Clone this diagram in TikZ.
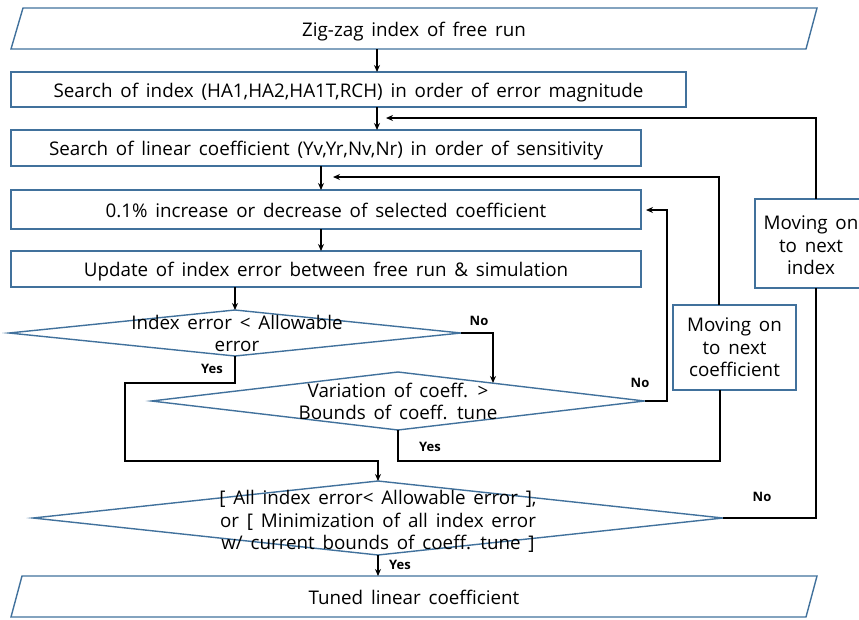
\documentclass[tikz,border=0pt]{standalone}
\usepackage{fontspec}
\setmainfont{Open Sans}
\usetikzlibrary{shapes.geometric,arrows.meta,calc}
\definecolor{bord}{HTML}{41719C}
\newcommand\widespace{\spaceskip=7.8pt plus 2pt\relax}
\begin{document}
\begin{tikzpicture}[x=1pt,y=-1pt,
  txt/.style={font=\fontsize{18.8}{22.5}\selectfont,align=center,inner sep=0pt,outer sep=0pt,execute at begin node=\widespace},
  oneline/.style={txt,text height=16pt,text depth=1pt},
  procbox/.style={oneline,draw=bord,line width=1.4pt,fill=white},
  sidebox/.style={draw=bord,line width=1.4pt,fill=white,inner sep=0pt,outer sep=0pt},
  decis/.style={diamond,draw=bord,line width=1.4pt,inner sep=0pt,outer sep=0pt},
  io/.style={draw=bord,line width=1.4pt,line join=miter},
  conn/.style={line width=1.8pt,-{Stealth[length=7pt,width=6pt]}},
  wire/.style={line width=1.8pt},
  lab/.style={font=\bfseries\fontsize{13}{15}\selectfont,inner sep=0pt}]
\useasboundingbox (0,0) rectangle (859,619);

% input / output parallelograms
\draw[io] (23,8) -- (817,8) -- (806,49) -- (11,49) -- cycle;
\node[oneline,minimum width=795pt,minimum height=41pt] (n1) at (414,28.5) {Zig-zag index of free run};
\draw[io] (22,576) -- (817,576) -- (806,617) -- (11,617) -- cycle;
\node[oneline,minimum width=795pt,minimum height=41pt] (n6) at (414,596.5) {Tuned linear coefficient};

% process boxes
\node[procbox,minimum width=675pt,minimum height=35pt] (n2) at (348.5,89.5) {Search of index (HA1,HA2,HA1T,RCH) in order of error magnitude};
\node[procbox,minimum width=630pt,minimum height=36pt] (n3) at (326,148) {Search of linear coefficient (Yv,Yr,Nv,Nr) in order of sensitivity};
\node[procbox,minimum width=630pt,minimum height=39pt] (n4) at (326,209.5) {0.1\% increase or decrease of selected coefficient};
\node[procbox,minimum width=630pt,minimum height=36pt] (n5) at (326,269) {Update of index error between free run \& simulation};

% decisions
\node[decis,minimum width=452pt,minimum height=46pt] (d1) at (235,333) {};
\node[txt] (t1) at (237,333.5) {Index error < Allowable\\error};
\node[decis,minimum width=493pt,minimum height=58pt] (d2) at (398,401) {};
\node[txt] (t2) at (398,401.5) {Variation of coeff. >\\Bounds of coeff. tune};
\node[decis,minimum width=690pt,minimum height=74pt] (d3) at (378,518) {};
\node[txt] (t3) at (378,521.5) {[ All index error< Allowable error ],\\or [ Minimization of all index error\\w/ current bounds of coeff. tune ]};

% side boxes
\node[sidebox,minimum width=123pt,minimum height=85pt] (mc) at (734.5,347.5) {};
\node[txt] (tc) at (734.5,347.5) {Moving on\\to next\\coefficient};
\node[sidebox,minimum width=116pt,minimum height=89pt] (mi) at (813,243.5) {};
\node[txt] (ti) at (811,245.5) {Moving on\\to next\\index};

% helper coordinates
\coordinate (d2in) at (493,383);

% main flow
\draw[conn] (377,0 |- n1.south) -- (377,0 |- n2.north);
\draw[conn] (377,0 |- n2.south) -- (377,0 |- n3.north);
\draw[conn] (321,0 |- n3.south) -- (321,0 |- n4.north);
\draw[conn] (321,0 |- n4.south) -- (321,0 |- n5.north);
\draw[conn] (d1.north |- n5.south) -- (d1.north);
\draw[conn] (d1.east) -| (d2in);
\draw[conn] (d1.south) -- (235,383) -- (125,383) -- (125,461) -- (378,461) -- (d3.north);
\draw[conn] (d3.south) -- (n6.north -| d3.south);

% coefficient loop
\draw[conn] (d2.east) -- (667,401) -- (667,210) -- (646,210);
\draw[wire] (d2.south) -- (398,461) -- (720,461) -- (720,0 |- mc.south);
\draw[conn] (719,0 |- mc.north) -- (719,177) -- (333,177);

% index loop
\draw[wire] (d3.east) -- (816,518) -- (816,0 |- mi.south);
\draw[conn] (816,0 |- mi.north) -- (816,118) -- (386,118);

% labels
\node[lab] at (479,321) {No};
\node[lab] at (212,369) {Yes};
\node[lab] at (640,383) {No};
\node[lab] at (430,447) {Yes};
\node[lab] at (762,497) {No};
\node[lab] at (400,565) {Yes};
\end{tikzpicture}
\end{document}
